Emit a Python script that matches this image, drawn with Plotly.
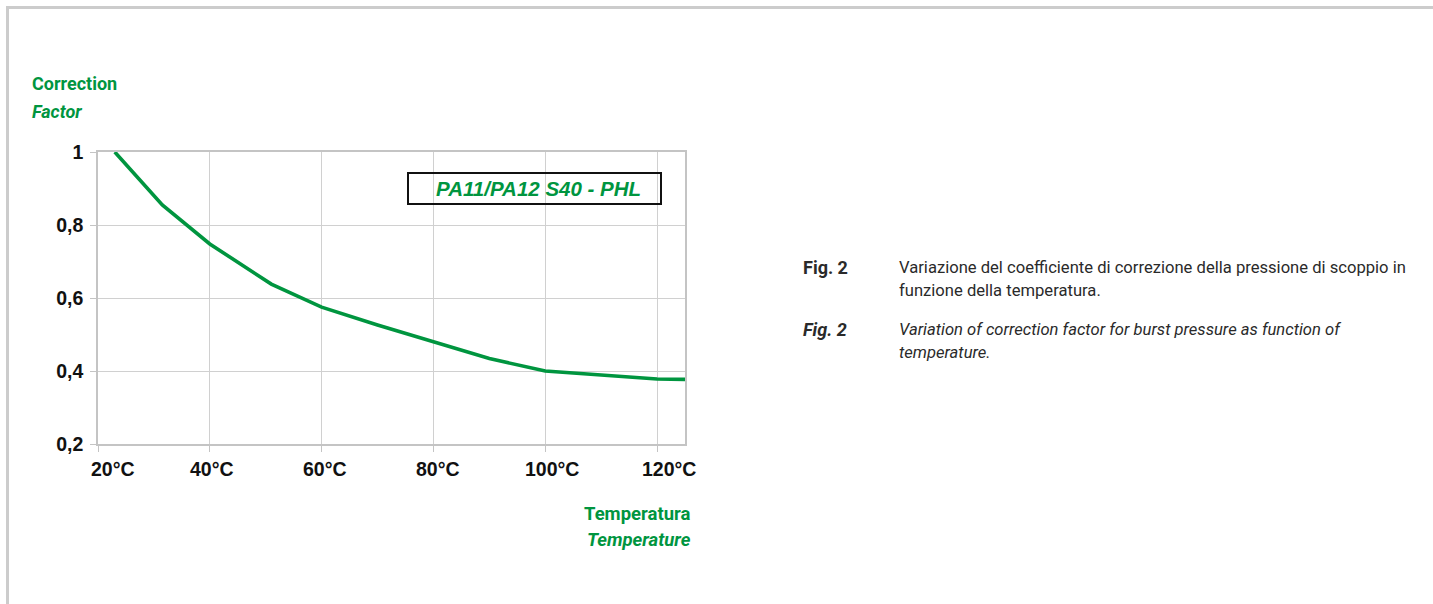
import plotly.graph_objects as go

# ---- data ----
temps = [23, 31.5, 40, 51, 60, 70, 80, 90, 100, 110, 120, 125]
factors = [1.0, 0.855, 0.748, 0.638, 0.575, 0.526, 0.48, 0.434, 0.40, 0.388, 0.378, 0.377]
x_tick_vals = [20, 40, 60, 80, 100, 120]
x_tick_text = ["20°C", "40°C", "60°C", "80°C", "100°C", "120°C"]
y_tick_vals = [0.2, 0.4, 0.6, 0.8, 1.0]
y_tick_text = ["0,2", "0,4", "0,6", "0,8", "1"]
series_name = "PA11/PA12 S40 - PHL"
y_title = ["Correction", "Factor"]
x_title = ["Temperatura", "Temperature"]
caption_it = ["Variazione del coefficiente di correzione della pressione di scoppio in",
              "funzione della temperatura."]
caption_en = ["Variation of correction factor for burst pressure as function of",
              "temperature."]

# ---- layout geometry (pixels) ----
W, H = 1433, 604
L, R, T, B = 98, 685, 152, 444
GREEN = "#00953f"
GRID = "#d0d0d0"
ARIAL = "Liberation Sans, Arial, sans-serif"
COND = "Roboto, sans-serif"


def px(x):
    return (x - L) / (R - L)


def py(y):
    return (B - y) / (B - T)


fig = go.Figure()
fig.add_trace(go.Scatter(x=temps, y=factors, mode="lines",
                         line=dict(color=GREEN, width=3.6), name=series_name,
                         showlegend=False, hoverinfo="x+y"))

annotations = []
# x tick labels (first shifted right as in the reference)
shifts = [15, 2, 3, 5, 7, 12]
for v, t, s in zip(x_tick_vals, x_tick_text, shifts):
    annotations.append(dict(x=v, y=py(469), xref="x", yref="paper", text=f"<b>{t}</b>",
                            showarrow=False, xanchor="center", yanchor="middle", xshift=s,
                            font=dict(family=ARIAL, size=19.5, color="#111111")))

# axis titles
annotations += [
    dict(x=px(30), y=py(84), xref="paper", yref="paper", text=f"<b>{y_title[0]}</b>",
         showarrow=False, xanchor="left", yanchor="middle",
         font=dict(family=COND, size=18, color=GREEN)),
    dict(x=px(30), y=py(111), xref="paper", yref="paper", text=f"<b><i>{y_title[1]}</i></b>",
         showarrow=False, xanchor="left", yanchor="middle",
         font=dict(family=COND, size=18, color=GREEN)),
    dict(x=px(693), y=py(514), xref="paper", yref="paper", text=f"<b>{x_title[0]}</b>",
         showarrow=False, xanchor="right", yanchor="middle",
         font=dict(family=COND, size=18.5, color=GREEN)),
    dict(x=px(693), y=py(540), xref="paper", yref="paper", text=f"<b><i>{x_title[1]}</i></b>",
         showarrow=False, xanchor="right", yanchor="middle",
         font=dict(family=COND, size=18.5, color=GREEN)),
]

# series label box
annotations.append(dict(x=px(538), y=py(188.5), xref="paper", yref="paper",
                        text=f"<b><i>{series_name}</i></b>", showarrow=False,
                        xanchor="center", yanchor="middle",
                        font=dict(family=ARIAL, size=20.5, color=GREEN)))

# caption
CAP = "#2a2a2a"
annotations += [
    dict(x=px(801), y=py(267), xref="paper", yref="paper", text="<b>Fig. 2</b>",
         showarrow=False, xanchor="left", yanchor="middle",
         font=dict(family=COND, size=18, color=CAP)),
    dict(x=px(801), y=py(329), xref="paper", yref="paper", text="<b><i>Fig. 2</i></b>",
         showarrow=False, xanchor="left", yanchor="middle",
         font=dict(family=COND, size=18, color=CAP)),
]
for i, line in enumerate(caption_it):
    annotations.append(dict(x=px(897), y=py(267 + 23 * i), xref="paper", yref="paper", text=line,
                            showarrow=False, xanchor="left", yanchor="middle",
                            font=dict(family=COND, size=16.6, color=CAP)))
for i, line in enumerate(caption_en):
    annotations.append(dict(x=px(897), y=py(329 + 23 * i), xref="paper", yref="paper",
                            text=f"<i>{line}</i>",
                            showarrow=False, xanchor="left", yanchor="middle",
                            font=dict(family=COND, size=16.6, color=CAP)))

shapes = [
    # label box
    dict(type="rect", xref="paper", yref="paper", x0=px(408), x1=px(661), y0=py(204), y1=py(173),
         line=dict(color="#111111", width=2), fillcolor="rgba(0,0,0,0)", layer="above"),
    # outer page frame (top and left)
    dict(type="line", xref="paper", yref="paper", x0=px(6), x1=px(W + 5), y0=py(7.5), y1=py(7.5),
         line=dict(color="#cccccc", width=3)),
    dict(type="line", xref="paper", yref="paper", x0=px(7.5), x1=px(7.5), y0=py(6), y1=py(H + 5),
         line=dict(color="#cccccc", width=3)),
]

fig.update_layout(
    width=W, height=H,
    margin=dict(l=L, r=W - R, t=T, b=H - B, pad=0),
    paper_bgcolor="white", plot_bgcolor="white",
    annotations=annotations, shapes=shapes,
    xaxis=dict(range=[20, 125], tickvals=x_tick_vals, showticklabels=False,
               showgrid=True, gridcolor=GRID, gridwidth=1, zeroline=False,
               showline=True, linecolor="#c4c4c4", linewidth=1.5, mirror=True,
               ticks="outside", ticklen=6, tickcolor="#c4c4c4", fixedrange=True),
    yaxis=dict(range=[0.2, 1.0], tickvals=y_tick_vals, ticktext=[f"<b>{t}</b>" for t in y_tick_text],
               showgrid=True, gridcolor=GRID, gridwidth=1, zeroline=False,
               showline=True, linecolor="#c4c4c4", linewidth=1.5, mirror=True,
               ticks="outside", ticklen=6, tickcolor="#c4c4c4", ticklabelstandoff=3,
               tickfont=dict(family=ARIAL, size=19.5, color="#111111"), fixedrange=True),
)

fig.write_html("out.html", config={"displayModeBar": False},
               post_script="document.body.style.margin='0';document.body.style.overflow='hidden';")
